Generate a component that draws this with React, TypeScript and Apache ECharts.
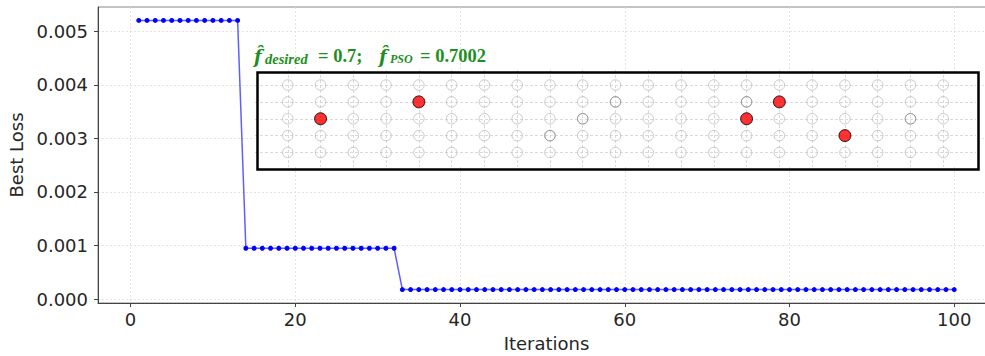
import React, { useEffect, useRef } from 'react';
import * as echarts from 'echarts';

// ---- Data ----
const iterations = [
  1, 2, 3, 4, 5, 6, 7, 8, 9, 10, 11, 12, 13, 14, 15, 16, 17, 18, 19, 20,
  21, 22, 23, 24, 25, 26, 27, 28, 29, 30, 31, 32, 33, 34, 35, 36, 37, 38, 39, 40,
  41, 42, 43, 44, 45, 46, 47, 48, 49, 50, 51, 52, 53, 54, 55, 56, 57, 58, 59, 60,
  61, 62, 63, 64, 65, 66, 67, 68, 69, 70, 71, 72, 73, 74, 75, 76, 77, 78, 79, 80,
  81, 82, 83, 84, 85, 86, 87, 88, 89, 90, 91, 92, 93, 94, 95, 96, 97, 98, 99, 100,
];
const bestLoss = [
  0.0052, 0.0052, 0.0052, 0.0052, 0.0052, 0.0052, 0.0052, 0.0052, 0.0052, 0.0052,
  0.0052, 0.0052, 0.0052, 0.00095, 0.00095, 0.00095, 0.00095, 0.00095, 0.00095, 0.00095,
  0.00095, 0.00095, 0.00095, 0.00095, 0.00095, 0.00095, 0.00095, 0.00095, 0.00095, 0.00095,
  0.00095, 0.00095, 0.00018, 0.00018, 0.00018, 0.00018, 0.00018, 0.00018, 0.00018, 0.00018,
  0.00018, 0.00018, 0.00018, 0.00018, 0.00018, 0.00018, 0.00018, 0.00018, 0.00018, 0.00018,
  0.00018, 0.00018, 0.00018, 0.00018, 0.00018, 0.00018, 0.00018, 0.00018, 0.00018, 0.00018,
  0.00018, 0.00018, 0.00018, 0.00018, 0.00018, 0.00018, 0.00018, 0.00018, 0.00018, 0.00018,
  0.00018, 0.00018, 0.00018, 0.00018, 0.00018, 0.00018, 0.00018, 0.00018, 0.00018, 0.00018,
  0.00018, 0.00018, 0.00018, 0.00018, 0.00018, 0.00018, 0.00018, 0.00018, 0.00018, 0.00018,
  0.00018, 0.00018, 0.00018, 0.00018, 0.00018, 0.00018, 0.00018, 0.00018, 0.00018, 0.00018,
];
const xTickValues = [0, 20, 40, 60, 80, 100];
const yTickValues = [0, 0.001, 0.002, 0.003, 0.004, 0.005];

// inset: 21 x 5 grid of cells
const insetColumns = [0, 1, 2, 3, 4, 5, 6, 7, 8, 9, 10, 11, 12, 13, 14, 15, 16, 17, 18, 19, 20];
const insetRows = [0, 1, 2, 3, 4];
const selectedCells = [
  [1, 2],
  [4, 1],
  [14, 2],
  [15, 1],
  [17, 3],
];
const darkerCells = [
  [8, 3],
  [9, 2],
  [10, 1],
  [14, 1],
  [19, 2],
];
const hatF = 'f\u0302';
const desiredSub = 'desired';
const psoSub = 'PSO';
const desiredValueText = '= 0.7;';
const psoValueText = '= 0.7002';

export default function App() {
  const ref = useRef<HTMLDivElement>(null);

  useEffect(() => {
    if (!ref.current) return;
    const chart = echarts.init(ref.current, null, { renderer: 'svg' });

    const allCells: number[][] = [];
    insetColumns.forEach((c) => insetRows.forEach((r) => allCells.push([c, r])));

    const green = '#1e8f1e';
    const axisColor = '#444';
    const labelColor = '#262626';
    const font = 'DejaVu Sans';
    const gridLine = { color: '#dadada', type: [2, 2], width: 0.8 };

    const option: any = {
      animation: false,
      backgroundColor: '#fff',
      grid: [
        {
          left: 98,
          top: 7,
          width: 897,
          bottom: 53,
          outerBoundsMode: 'none',
          containLabel: false,
          show: true,
          borderColor: '#888',
          borderWidth: 1,
          backgroundColor: 'transparent',
        },
        {
          left: 255,
          top: 70,
          width: 721,
          height: 97,
          outerBoundsMode: 'none',
          containLabel: false,
          show: true,
          backgroundColor: '#fff',
          borderWidth: 0,
          z: 3,
        },
      ],
      xAxis: [
        {
          type: 'value',
          gridIndex: 0,
          min: -3.95,
          max: 104.95,
          splitNumber: 5,
          name: 'Iterations',
          nameLocation: 'middle',
          nameGap: 31,
          nameTextStyle: { fontSize: 18, color: labelColor, fontFamily: font },
          axisLine: { show: true, onZero: false, lineStyle: { color: axisColor, width: 1 } },
          axisTick: { show: true, length: 4, lineStyle: { color: axisColor }, customValues: xTickValues },
          axisLabel: {
            fontSize: 18,
            color: labelColor,
            fontFamily: font,
            margin: 7,
            customValues: xTickValues,
          },
          splitLine: { show: true, lineStyle: gridLine },
        },
        {
          type: 'value',
          gridIndex: 1,
          min: -1,
          max: 21,
          show: false,
        },
      ],
      yAxis: [
        {
          type: 'value',
          gridIndex: 0,
          min: -0.000071,
          max: 0.005451,
          splitNumber: 5,
          name: 'Best Loss',
          nameLocation: 'middle',
          nameGap: 72,
          nameTextStyle: { fontSize: 18, color: labelColor, fontFamily: font },
          axisLine: { show: true, onZero: false, lineStyle: { color: axisColor, width: 1 } },
          axisTick: { show: true, length: 4, lineStyle: { color: axisColor }, customValues: yTickValues },
          axisLabel: {
            fontSize: 18,
            color: labelColor,
            fontFamily: font,
            margin: 10,
            customValues: yTickValues,
            formatter: (v: number) => v.toFixed(3),
          },
          splitLine: { show: true, lineStyle: gridLine },
        },
        {
          type: 'value',
          gridIndex: 1,
          inverse: true,
          min: -0.89,
          max: 4.86,
          show: false,
        },
      ],
      series: [
        {
          type: 'line',
          xAxisIndex: 0,
          yAxisIndex: 0,
          data: iterations.map((x, i) => [x, bestLoss[i]]),
          symbol: 'circle',
          symbolSize: 5,
          showSymbol: true,
          lineStyle: { color: 'rgba(40,40,255,0.75)', width: 1.5 },
          itemStyle: { color: '#0000ff' },
          z: 2,
        },
        {
          type: 'scatter',
          xAxisIndex: 1,
          yAxisIndex: 1,
          data: allCells,
          symbol: 'circle',
          symbolSize: 10.5,
          itemStyle: { color: 'rgba(0,0,0,0)', borderColor: '#bdbdbd', borderWidth: 1 },
          z: 10,
          silent: true,
          markLine: {
            silent: true,
            symbol: ['none', 'none'],
            label: { show: false },
            lineStyle: { color: '#d0d0d0', type: [3, 2], width: 0.8 },
            data: [
              ...insetColumns.map((c) => ({ xAxis: c })),
              ...insetRows.map((r) => ({ yAxis: r })),
            ],
          },
        },
        {
          type: 'scatter',
          xAxisIndex: 1,
          yAxisIndex: 1,
          data: darkerCells,
          symbol: 'circle',
          symbolSize: 10.5,
          itemStyle: { color: 'rgba(0,0,0,0)', borderColor: '#8a8a8a', borderWidth: 1 },
          z: 11,
          silent: true,
        },
        {
          type: 'scatter',
          xAxisIndex: 1,
          yAxisIndex: 1,
          data: selectedCells,
          symbol: 'circle',
          symbolSize: 12,
          itemStyle: { color: '#ff0000', borderColor: '#000', borderWidth: 1 },
          z: 12,
          silent: true,
        },
      ],
      graphic: [
        {
          type: 'rect',
          left: 255,
          top: 70,
          z: 100,
          shape: { width: 721, height: 97 },
          style: { fill: 'none', stroke: '#000', lineWidth: 2.5 },
          silent: true,
        },
        {
          type: 'text',
          x: 254,
          y: 56,
          z: 100,
          style: {
            text: hatF,
            font: 'italic bold 18px "DejaVu Serif"',
            fill: green,
            verticalAlign: 'middle',
          },
        },
        {
          type: 'text',
          x: 265,
          y: 58.5,
          z: 100,
          style: {
            text: desiredSub,
            font: 'italic bold 14.5px "Liberation Serif"',
            fill: green,
            verticalAlign: 'middle',
          },
        },
        {
          type: 'text',
          x: 318,
          y: 56.3,
          z: 100,
          style: {
            text: desiredValueText,
            font: 'bold 18.5px "Liberation Serif"',
            fill: green,
            verticalAlign: 'middle',
          },
        },
        {
          type: 'text',
          x: 379,
          y: 56,
          z: 100,
          style: {
            text: hatF,
            font: 'italic bold 18px "DejaVu Serif"',
            fill: green,
            verticalAlign: 'middle',
          },
        },
        {
          type: 'text',
          x: 390,
          y: 59,
          z: 100,
          style: {
            text: psoSub,
            font: 'italic bold 12px "Liberation Serif"',
            fill: green,
            verticalAlign: 'middle',
          },
        },
        {
          type: 'text',
          x: 420,
          y: 56.3,
          z: 100,
          style: {
            text: psoValueText,
            font: 'bold 18.5px "Liberation Serif"',
            fill: green,
            verticalAlign: 'middle',
          },
        },
      ],
    };

    chart.setOption(option);
    return () => chart.dispose();
  }, []);

  return (
    <div
      ref={ref}
      style={{ position: 'fixed', left: 0, top: 0, width: 985, height: 356, background: '#fff' }}
    />
  );
}
